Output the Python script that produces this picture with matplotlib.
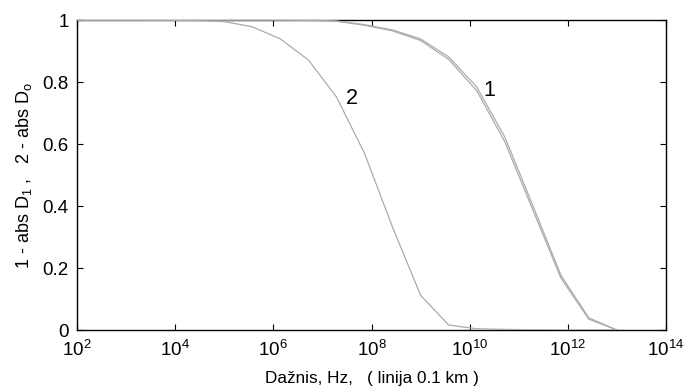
import matplotlib
matplotlib.use("Agg")
import matplotlib.pyplot as plt
from matplotlib.ticker import FixedLocator, LogFormatterSciNotation, NullLocator

plt.rcParams["font.family"] = ["Liberation Sans", "DejaVu Sans"]
plt.rcParams["mathtext.fontset"] = "custom"
plt.rcParams["mathtext.rm"] = "Liberation Sans"
plt.rcParams["mathtext.it"] = "Liberation Sans:italic"

# frequency grid, Hz
freq = [1.0e1, 3.73e1, 1.39e2, 5.18e2, 1.93e3, 7.20e3, 2.68e4, 1.0e5,
        3.73e5, 1.39e6, 5.18e6, 1.93e7, 7.20e7, 2.68e8, 1.0e9, 3.73e9,
        1.39e10, 5.18e10, 1.93e11, 7.20e11, 2.68e12, 1.0e13]

# |D1| for the line (two nearly coincident variants)
d1_a = [1.0, 1.0, 1.0, 1.0, 1.0, 1.0, 1.0, 1.0, 1.0, 1.0, 0.999, 0.997,
        0.985, 0.968, 0.939, 0.881, 0.784, 0.623, 0.402, 0.177, 0.039, 0.0]
d1_b = [1.0, 1.0, 1.0, 1.0, 1.0, 1.0, 1.0, 1.0, 1.0, 1.0, 0.999, 0.996,
        0.983, 0.965, 0.934, 0.873, 0.772, 0.608, 0.388, 0.168, 0.035, 0.0]
# |D0|
d0 = [1.0, 1.0, 1.0, 1.0, 1.0, 0.999, 0.998, 0.995, 0.978, 0.939, 0.871,
      0.752, 0.570, 0.332, 0.112, 0.016, 0.004, 0.002, 0.001, 0.0, 0.0, 0.0]

xticks = [1e2, 1e4, 1e6, 1e8, 1e10, 1e12, 1e14]
yticks = [0, 0.2, 0.4, 0.6, 0.8, 1]
ytick_labels = ["0", "0.2", "0.4", "0.6", "0.8", "1"]

fig = plt.figure(figsize=(6.85, 3.9), dpi=100)
ax = fig.add_axes([0.1124, 0.1538, 0.8599, 0.7949])

line_kw = dict(color="#ababab", lw=0.9, zorder=3)
ax.plot(freq, d1_a, **line_kw)
ax.plot(freq, d1_b, **line_kw)
ax.plot(freq, d0, **line_kw)

ax.set_xscale("log")
ax.set_xlim(1e2, 1e14)
ax.set_ylim(0, 1)
ax.xaxis.set_major_locator(FixedLocator(xticks))
ax.xaxis.set_major_formatter(LogFormatterSciNotation())
ax.xaxis.set_minor_locator(NullLocator())
ax.set_yticks(yticks)
ax.set_yticklabels(ytick_labels)

ax.tick_params(direction="in", length=4, width=0.8, top=True, right=True,
               labelsize=13.5, colors="black")
ax.tick_params(axis="y", pad=6)
ax.tick_params(axis="x", pad=7)
for s in ax.spines.values():
    s.set_linewidth(1.0)
    s.set_color("black")

ax.text(10**10.41, 0.774, "1", fontsize=15.5, ha="center", va="center")
ax.text(10**7.60, 0.748, "2", fontsize=15.5, ha="center", va="center")

ax.set_xlabel("Dažnis, Hz,   ( linija 0.1 km )", fontsize=12.3, labelpad=8)
ax.set_ylabel(r"1 - abs D$\mathregular{_1}$ ,   2 - abs D$\mathregular{_o}$",
              fontsize=13, labelpad=6)

fig.savefig("out.png", dpi=100)
